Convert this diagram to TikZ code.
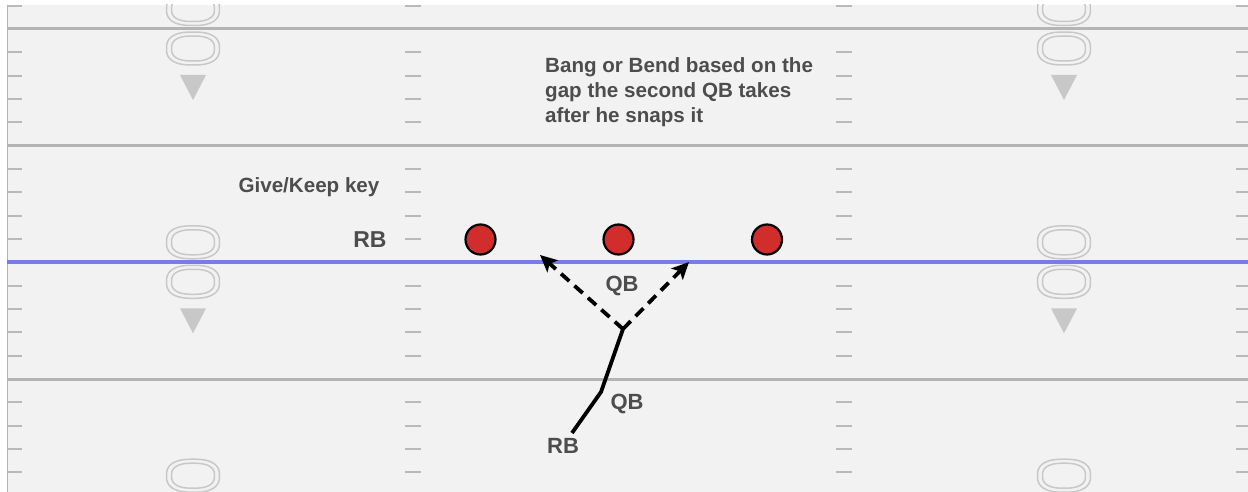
\documentclass[tikz,border=0pt]{standalone}
\usepackage{fontspec}
\setmainfont{Liberation Sans}
\usetikzlibrary{arrows.meta}
\definecolor{fieldbg}{RGB}{242,242,242}
\definecolor{yardgray}{RGB}{180,180,180}
\definecolor{tickgray}{RGB}{185,185,185}
\definecolor{markgray}{RGB}{200,200,200}
\definecolor{losblue}{RGB}{122,122,238}
\definecolor{txtgray}{RGB}{77,77,77}
\definecolor{playerred}{RGB}{210,45,45}
\tikzset{
  yardline/.style={draw=yardgray, line width=3pt},
  tickline/.style={draw=tickgray, line width=1.8pt},
  numoval/.style={draw=markgray, line width=1.5pt},
  arrowtri/.style={fill=markgray, draw=none},
  lbl/.style={text=txtgray, font=\bfseries, inner sep=0pt},
  player/.style={circle, draw=black, line width=2.2pt, fill=playerred, minimum size=30pt, inner sep=0pt},
  route/.style={draw=black, line width=3.8pt},
  option/.style={draw=black, line width=3.8pt, dash pattern=on 11pt off 7pt, -{Stealth[length=17pt,width=16pt,inset=4pt]}}
}
\newcommand{\supoval}[4]{% cx, cy, a, b
  \draw[numoval] plot[domain=2.5:357.5, samples=72, variable=\t]
    ({#1+#3*sign(cos(\t))*abs(cos(\t))^0.78}, {#2+#4*sign(sin(\t))*abs(sin(\t))^0.78}) -- cycle;}
\begin{document}
\begin{tikzpicture}[x=1pt,y=-1pt]
\useasboundingbox (0,0) rectangle (1248,492);
\fill[white] (0,0) rectangle (1248,492);
\fill[fieldbg] (7,5) rectangle (1248,492);
\begin{scope}
\clip (7,5) rectangle (1248,492);
% yard lines
\foreach \yl in {29,145.7,379} {
  \draw[yardline] (7,\yl) -- (1248,\yl);
}
% ticks
\foreach \n in {0,...,4} {
  \foreach \k in {-4,-3,-2,-1,1,2,3,4} {
    \pgfmathsetmacro{\ty}{29+116.67*\n+23.33*\k}
    \draw[tickline] (7,\ty) -- (22,\ty);
    \draw[tickline] (405,\ty) -- (421,\ty);
    \draw[tickline] (836,\ty) -- (852,\ty);
    \draw[tickline] (1236,\ty) -- (1248,\ty);
  }
}
% number ovals and direction triangles
\foreach \cx in {193,1064} {
  \foreach \yl in {29,262.3,495.7} {
    \supoval{\cx}{\yl-20}{26.5}{16.5}
    \supoval{\cx}{\yl-20}{21.5}{12.5}
    \supoval{\cx}{\yl+19.5}{26.5}{16.5}
    \supoval{\cx}{\yl+19.5}{21.5}{12.5}
    \fill[arrowtri] (\cx-13,\yl+46) -- (\cx+13,\yl+46) -- (\cx,\yl+71) -- cycle;
  }
}
\end{scope}
\draw[draw=yardgray, line width=1.5pt] (7.5,5) -- (7.5,492);
% line of scrimmage
\draw[draw=losblue, line width=4pt] (7,262.3) -- (1248,262.3);
% text
\node[lbl, anchor=north west, align=left, font=\bfseries\fontsize{20.6}{24.8}\selectfont] (note) at (545,57.5)
  {Bang or Bend based on the\\gap the second QB takes\\after he snaps it};
\node[lbl, font=\bfseries\fontsize{20.6}{24}\selectfont] (key) at (309,187) {Give/Keep key};
\node[lbl, font=\bfseries\fontsize{23}{26}\selectfont] (rbl) at (370,240) {RB};
% players
\node[player] (p1) at (480.5,239.5) {};
\node[player] (p2) at (618.5,239.5) {};
\node[player] (p3) at (767,239.5) {};
% route
\coordinate (rbs) at (572,433);
\coordinate (bend) at (601,392);
\coordinate (jn) at (623,329);
\coordinate (tipL) at (540,255);
\coordinate (tipR) at (689,262);
\draw[route] (rbs) -- (bend) -- (jn);
\draw[option] (jn) -- (tipL);
\draw[option] (jn) -- (tipR);
\node[lbl, font=\bfseries\fontsize{22}{24}\selectfont] (qb1) at (622,286) {QB};
\node[lbl, font=\bfseries\fontsize{22}{24}\selectfont] (qb2) at (627,404) {QB};
\node[lbl, font=\bfseries\fontsize{22}{24}\selectfont] (rb2) at (563,446) {RB};
\end{tikzpicture}
\end{document}
